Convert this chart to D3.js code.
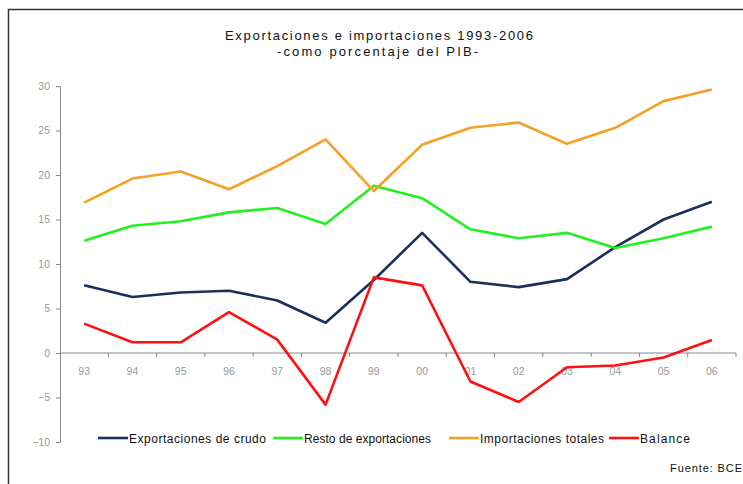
<!DOCTYPE html>
<html lang="es">
<head>
  <meta charset="utf-8">
  <title>Exportaciones e importaciones 1993-2006</title>
  <script src="https://cdn.jsdelivr.net/npm/d3@7"></script>
  <style>
    body { margin: 0; background: #fff; }
    svg { display: block; font-family: "Liberation Sans", Arial, sans-serif; }
  </style>
</head>
<body>
  <svg width="743" height="484"></svg>

  <script>
    var years = ["93", "94", "95", "96", "97", "98", "99", "00", "01", "02", "03", "04", "05", "06"];

    var crudo = [7.6, 6.3, 6.8, 7.0, 5.9, 3.4, 8.2, 13.5, 8.0, 7.4, 8.3, 11.9, 15.0, 17.0];
    var resto = [12.6, 14.3, 14.8, 15.8, 16.3, 14.5, 18.8, 17.4, 13.9, 12.9, 13.5, 11.8, 12.9, 14.2];
    var importaciones = [16.9, 19.6, 20.4, 18.4, 21.0, 24.0, 18.2, 23.4, 25.3, 25.9, 23.5, 25.3, 28.3, 29.6];
    var balance = [3.3, 1.2, 1.2, 4.6, 1.5, -5.8, 8.5, 7.6, -3.2, -5.5, -1.6, -1.4, -0.5, 1.45];

    var yTicks = [-10, -5, 0, 5, 10, 15, 20, 25, 30];

    var series = [
      { name: "Exportaciones de crudo", values: crudo, color: "#1b2f5e" },
      { name: "Resto de exportaciones", values: resto, color: "#22f022" },
      { name: "Importaciones totales", values: importaciones, color: "#f4a125" },
      { name: "Balance", values: balance, color: "#ff1010" }
    ];

    var svg = d3.select("svg"),
      plotLeft = 60,
      plotRight = 736,
      plotTop = 86,
      plotBottom = 442;

    // outer frame of the picture
    svg.append("rect")
      .attr("x", 8.5).attr("y", 9.5)
      .attr("width", 745).attr("height", 490)
      .attr("fill", "none")
      .attr("stroke", "#333")
      .attr("stroke-width", 1.5);

    var x = d3.scaleBand().domain(years).range([plotLeft, plotRight]);
    var y = d3.scaleLinear().domain([-10, 30]).range([plotBottom, plotTop]);

    // title
    svg.append("text")
      .attr("x", 379).attr("y", 39.5)
      .attr("text-anchor", "middle")
      .attr("font-size", 13)
      .attr("textLength", 308)
      .attr("fill", "#111")
      .text("Exportaciones e importaciones 1993-2006");
    svg.append("text")
      .attr("x", 377.5).attr("y", 55.5)
      .attr("text-anchor", "middle")
      .attr("font-size", 13)
      .attr("textLength", 201)
      .attr("fill", "#111")
      .text("-como porcentaje del PIB-");

    // y axis
    var yAxis = svg.append("g")
      .attr("transform", "translate(" + plotLeft + ",0)")
      .call(d3.axisLeft(y).tickValues(yTicks).tickSize(4).tickPadding(6));
    yAxis.selectAll("path, line").attr("stroke", "#888");
    yAxis.selectAll("text").attr("fill", "#999").attr("font-size", 10.5)
      .attr("font-family", "Liberation Sans, Arial, sans-serif");

    // x axis at zero, ticks between categories
    var xAxis = svg.append("g")
      .attr("transform", "translate(0," + y(0) + ")");
    xAxis.append("line")
      .attr("x1", plotLeft).attr("x2", plotRight)
      .attr("stroke", "#888");
    xAxis.selectAll(".tk")
      .data(years)
      .enter().append("line")
      .attr("x1", function(d) { return x(d) + x.bandwidth(); })
      .attr("x2", function(d) { return x(d) + x.bandwidth(); })
      .attr("y1", 0).attr("y2", 4)
      .attr("stroke", "#888");
    xAxis.selectAll(".lbl")
      .data(years)
      .enter().append("text")
      .attr("x", function(d) { return x(d) + x.bandwidth() / 2; })
      .attr("y", 22)
      .attr("text-anchor", "middle")
      .attr("font-size", 10.5)
      .attr("fill", "#999")
      .text(function(d) { return d; });

    // lines
    var line = d3.line()
      .x(function(d, i) { return x(years[i]) + x.bandwidth() / 2; })
      .y(function(d) { return y(d); });

    svg.selectAll(".serie")
      .data(series)
      .enter().append("path")
      .attr("d", function(d) { return line(d.values); })
      .attr("fill", "none")
      .attr("stroke", function(d) { return d.color; })
      .attr("stroke-width", 2.6)
      .attr("stroke-linejoin", "round");

    // legend
    var legendX = [98, 273, 449, 609];
    var legendW = [137, 127, 124, 50];
    var legend = svg.selectAll(".leg")
      .data(series)
      .enter().append("g")
      .attr("transform", function(d, i) { return "translate(" + legendX[i] + ",438)"; });
    legend.append("line")
      .attr("x1", 0).attr("x2", 30)
      .attr("stroke", function(d) { return d.color; })
      .attr("stroke-width", 2.6);
    legend.append("text")
      .attr("x", 31).attr("y", 4.5)
      .attr("font-size", 12)
      .attr("textLength", function(d, i) { return legendW[i]; })
      .attr("fill", "#111")
      .text(function(d) { return d.name; });

    // source
    svg.append("text")
      .attr("x", 742).attr("y", 472)
      .attr("text-anchor", "end")
      .attr("font-size", 11)
      .attr("textLength", 72)
      .attr("fill", "#111")
      .text("Fuente: BCE");
  </script>
</body>
</html>
